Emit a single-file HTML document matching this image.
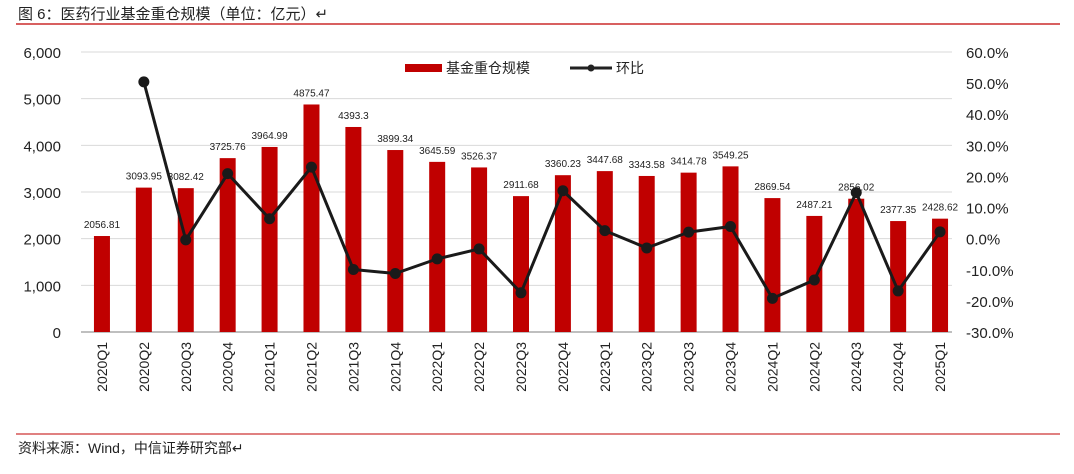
<!DOCTYPE html>
<html><head><meta charset="utf-8"><style>
body{margin:0;width:1074px;height:469px;background:#fff;overflow:hidden;font-family:"Liberation Sans","Noto Sans CJK SC",sans-serif}
</style></head><body>
<svg width="1074" height="469" font-family="Liberation Sans, Noto Sans CJK SC, sans-serif">
<text x="18" y="19" font-size="15" fill="#222">图 6：医药行业基金重仓规模（单位：亿元）↵</text>
<line x1="16" y1="24" x2="1060" y2="24" stroke="#c00000" stroke-width="1.3"/>
<line x1="16" y1="434" x2="1060" y2="434" stroke="#c00000" stroke-width="1"/>
<text x="18" y="453" font-size="14" fill="#222">资料来源：Wind，中信证券研究部↵</text>
<g id="grid"></g><g id="bars"></g><g id="line"></g><g id="labels"></g>
<g>
<rect x="405" y="64" width="37" height="8" fill="#c00000"/>
<text x="446" y="73" font-size="14" fill="#222">基金重仓规模</text>
<line x1="570" y1="68" x2="612" y2="68" stroke="#222" stroke-width="3"/>
<circle cx="591" cy="68" r="3.5" fill="#222"/>
<text x="616" y="73" font-size="14" fill="#222">环比</text>
</g>
</svg>
<script>
const categories=["2020Q1","2020Q2","2020Q3","2020Q4","2021Q1","2021Q2","2021Q3","2021Q4","2022Q1","2022Q2","2022Q3","2022Q4","2023Q1","2023Q2","2023Q3","2023Q4","2024Q1","2024Q2","2024Q3","2024Q4","2025Q1"];
const scaleValues=[2056.81,3093.95,3082.42,3725.76,3964.99,4875.47,4393.3,3899.34,3645.59,3526.37,2911.68,3360.23,3447.68,3343.58,3414.78,3549.25,2869.54,2487.21,2856.02,2377.35,2428.62];
const qoqValues=[null,50.4,-0.4,20.9,6.4,23.0,-9.9,-11.2,-6.5,-3.3,-17.4,15.4,2.6,-3.0,2.1,3.9,-19.2,-13.3,14.8,-16.8,2.2];
const leftTicks=[0,1000,2000,3000,4000,5000,6000];
const leftTickLabels=["0","1,000","2,000","3,000","4,000","5,000","6,000"];
const rightTicks=[-30,-20,-10,0,10,20,30,40,50,60];
const NS="http://www.w3.org/2000/svg";
const x0=81,x1=961,yTop=52,yBot=332;
const step=(x1-x0)/categories.length;
const xc=i=>x0+step*(i+0.5);
const yL=v=>yBot-(v/6000)*(yBot-yTop);
const yR=v=>yBot-((v+30)/90)*(yBot-yTop);
function mk(tag,attrs,parent,txt){const e=document.createElementNS(NS,tag);for(const k in attrs)e.setAttribute(k,attrs[k]);if(txt!==undefined)e.textContent=txt;document.getElementById(parent).appendChild(e);return e;}
leftTicks.forEach((t,i)=>{
  if(t>0){const g=mk('line',{x1:x0,x2:952,y1:yL(t),y2:yL(t),stroke:'#d9d9d9','stroke-width':1},'grid');
  
  }
  const l=mk('text',{x:61,y:yL(t)+6,'font-size':15,fill:'#222','text-anchor':'end'},'labels',leftTickLabels[i]);
  
  
});
rightTicks.forEach(t=>{
  const l=mk('text',{x:966,y:yR(t)+6,'font-size':15,fill:'#222'},'labels',t.toFixed(1)+'%');
  
  
});
const ax=mk('line',{x1:x0,x2:952,y1:yBot,y2:yBot,stroke:'#bfbfbf','stroke-width':2},'grid');


categories.forEach((c,i)=>{
  const v=scaleValues[i];
  const r=mk('rect',{x:xc(i)-8,y:yL(v),width:16,height:yBot-yL(v),fill:'#c00000'},'bars');
  
  
  const t=mk('text',{x:xc(i),y:yL(v)-8,'font-size':10,fill:'#222','text-anchor':'middle'},'labels',String(v));
  
  
  const xl=mk('text',{x:0,y:0,'font-size':14,fill:'#222','text-anchor':'end',transform:`translate(${xc(i)+5},${yBot+10}) rotate(-90)`},'labels',c);
  
  
});
let pts=[];
qoqValues.forEach((v,i)=>{if(v!==null)pts.push([xc(i),yR(v)]);});
const pl=mk('polyline',{points:pts.map(p=>p.join(',')).join(' '),fill:'none',stroke:'#1a1a1a','stroke-width':3,'stroke-linejoin':'round'},'line');


pts.forEach(p=>{
  const c=mk('circle',{cx:p[0],cy:p[1],r:5.5,fill:'#1a1a1a'},'line');
  
  
});
</script>
</body></html>
